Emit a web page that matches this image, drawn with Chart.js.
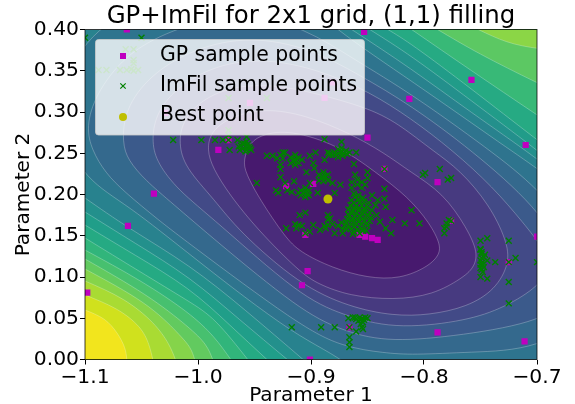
<!DOCTYPE html>
<html>
<head>
<meta charset="utf-8">
<script src="https://cdn.jsdelivr.net/npm/chart.js@4/dist/chart.umd.js"></script>
<style>
  html, body { margin: 0; padding: 0; background: #fff; }
  canvas { display: block; }
</style>
</head>
<body>
<canvas id="gpChart" width="575" height="404"></canvas>
<script>
// ---------- data ----------
const xTicks = [-1.1, -1.0, -0.9, -0.8, -0.7];
const yTicks = [0, 0.05, 0.1, 0.15, 0.2, 0.25, 0.3, 0.35, 0.4];

const gpPoints = [
  [-1.063,.400],[-0.954,.311],[-1.029,.299],[-0.982,.254],[-1.039,.201],[-0.973,.266],[-0.922,.210],
  [-0.853,.397],[-0.758,.339],[-0.813,.316],[-0.710,.260],[-0.850,.269],[-0.788,.215],[-0.835,.231],
  [-0.881,.336],[-0.888,.317],[-0.898,.213],[-1.062,.162],[-1.098,.081],[-0.903,.107],[-0.908,.090],
  [-0.901,.000],[-0.866,.039],[-0.788,.033],[-0.711,.022],[-0.700,.149],[-0.725,.118],[-0.776,.168],
  [-0.905,.151],[-0.857,.151],[-0.852,.149],[-0.846,.147],[-0.841,.145]
];

const imfilPoints = [
  [-1.100,.390],[-1.050,.390],[-1.064,.376],[-1.057,.376],[-1.057,.363],[-1.057,.359],[-1.063,.351],[-1.059,.352],
  [-1.057,.350],[-1.053,.351],[-1.088,.351],[-1.081,.351],[-1.069,.351],[-0.973,.317],[-0.939,.317],
  [-0.973,.278],[-0.973,.272],[-1.022,.266],[-0.997,.266],[-0.985,.266],[-0.978,.266],[-0.973,.266],[-0.965,.266],
  [-0.972,.254],[-0.957,.270],[-0.957,.264],[-0.958,.258],[-0.962,.259],[-0.955,.258],[-0.959,.262],[-0.957,.254],
  [-0.963,.254],[-0.958,.252],[-0.953,.254],[-0.964,.258],[-0.960,.256],[-0.956,.261],[-0.954,.256],[-0.961,.262],
  [-0.939,.247],[-0.934,.247],[-0.927,.248],[-0.930,.244],[-0.925,.244],[-0.925,.251],[-0.923,.251],[-0.927,.236],
  [-0.927,.231],[-0.927,.221],[-0.948,.214],[-0.929,.202],[-0.931,.205],[-0.923,.214],[-0.921,.205],[-0.922,.159],
  [-0.914,.242],[-0.918,.245],[-0.911,.245],[-0.918,.238],[-0.911,.238],[-0.914,.248],[-0.914,.236],[-0.908,.242],
  [-0.916,.241],[-0.912,.243],[-0.888,.267],[-0.873,.264],[-0.873,.256],[-0.896,.251],[-0.876,.250],[-0.881,.248],
  [-0.871,.250],[-0.876,.255],[-0.869,.253],[-0.884,.248],[-0.876,.245],[-0.885,.251],[-0.874,.252],[-0.878,.248],
  [-0.872,.247],[-0.868,.249],[-0.879,.251],[-0.883,.250],[-0.866,.251],[-0.873,.252],
  [-0.860,.251],[-0.901,.247],[-0.888,.242],[-0.898,.238],[-0.897,.232],[-0.904,.227],[-0.862,.237],[-0.889,.221],
  [-0.893,.224],[-0.885,.224],[-0.889,.227],[-0.889,.216],[-0.893,.217],[-0.885,.217],[-0.891,.220],[-0.887,.222],
  [-0.915,.216],[-0.901,.214],[-0.881,.214],[-0.874,.212],[-0.850,.227],[-0.850,.220],[-0.861,.224],[-0.859,.212],
  [-0.864,.215],[-0.855,.215],[-0.864,.208],[-0.855,.208],[-0.859,.218],[-0.852,.212],[-0.905,.203],[-0.909,.205],
  [-0.902,.205],[-0.909,.199],[-0.902,.199],[-0.905,.208],[-0.905,.197],[-0.907,.202],[-0.903,.201],[-0.917,.203],
  [-0.911,.202],[-0.894,.202],[-0.879,.202],[-0.861,.197],[-0.864,.193],[-0.858,.194],[-0.853,.192],[-0.865,.187],
  [-0.860,.186],[-0.855,.187],[-0.850,.185],[-0.863,.180],[-0.858,.181],[-0.852,.179],[-0.866,.174],[-0.861,.174],
  [-0.856,.173],[-0.850,.174],[-0.864,.168],[-0.858,.167],[-0.853,.168],[-0.869,.166],[-0.866,.161],[-0.861,.161],
  [-0.855,.159],[-0.850,.162],[-0.862,.155],[-0.857,.153],[-0.851,.156],[-0.872,.158],[-0.876,.162],[-0.883,.171],
  [-0.862,.190],[-0.857,.190],[-0.862,.184],[-0.857,.183],[-0.853,.183],[-0.860,.177],[-0.855,.177],[-0.864,.177],
  [-0.859,.171],[-0.854,.171],[-0.863,.171],[-0.860,.165],[-0.855,.164],[-0.864,.164],[-0.859,.157],[-0.854,.156],
  [-0.868,.170],[-0.870,.163],[-0.873,.166],[-0.865,.158],[-0.848,.168],[-0.848,.178],[-0.867,.182],[-0.862,.201],
  [-0.858,.199],[-0.854,.196],[-0.867,.176],[-0.869,.158],[-0.863,.152],[-0.851,.165],[-0.847,.172],[-0.849,.190],
  [-0.846,.181],[-0.834,.185],[-0.828,.169],[-0.834,.159],[-0.829,.153],[-0.817,.165],[-0.811,.181],[-0.804,.165],
  [-0.842,.175],[-0.839,.167],[-0.843,.187],[-0.846,.199],[-0.841,.193],[-0.910,.175],[-0.905,.178],[-0.911,.163],
  [-0.914,.164],[-0.908,.162],[-0.913,.159],[-0.898,.163],[-0.885,.175],[-0.885,.170],[-0.885,.163],[-0.888,.162],
  [-0.881,.164],[-0.887,.159],[-0.892,.157],[-0.901,.155],[-0.905,.153],[-0.879,.153],[-0.872,.153],[-0.780,.165],
  [-0.782,.159],[-0.778,.169],[-0.780,.161],[-0.776,.168],[-0.782,.153],[-0.799,.226],[-0.801,.224],[-0.786,.231],
  [-0.779,.218],[-0.776,.220],[-0.835,.231],[-0.835,.207],[-0.835,.195],[-0.744,.147],[-0.750,.133],[-0.749,.128],
  [-0.747,.124],[-0.750,.120],[-0.748,.118],[-0.750,.115],[-0.747,.112],[-0.750,.111],[-0.749,.109],[-0.748,.106],
  [-0.746,.127],[-0.744,.120],[-0.750,.134],[-0.750,.144],[-0.749,.123],[-0.748,.115],[-0.749,.130],[-0.737,.118],
  [-0.750,.100],[-0.744,.098],[-0.725,.144],[-0.725,.118],[-0.719,.123],[-0.725,.094],[-0.725,.068],[-0.700,.118],
  [-0.917,.039],[-0.891,.039],[-0.879,.039],[-0.866,.039],[-0.867,.050],[-0.863,.051],[-0.860,.049],[-0.857,.051],
  [-0.855,.049],[-0.852,.051],[-0.850,.050],[-0.858,.047],[-0.854,.045],[-0.856,.043],[-0.855,.039],[-0.854,.037],
  [-0.860,.034],[-0.866,.027],[-0.866,.021],[-0.866,.015],[-0.861,.051],[-0.856,.048],[-0.853,.048]
];

const bestPoint = [[-0.885, .1945]];

// contour lines round the minimum, outer one last
const contourA = [[-.960,.2418],[-.954,.2636],[-.942,.2733],[-.919,.2782],[-.876,.26],[-.843,.2273],[-.814,.197],[-.795,.1655],[-.785,.1388],[-.787,.1255],[-.797,.1121],[-.821,.0976],[-.850,.0988],[-.881,.1109],[-.910,.1303],[-.923,.1485],[-.945,.1933],[-.958,.2261]];
const contourB = [[-.992,.254],[-.989,.2758],[-.972,.294],[-.941,.3048],[-.905,.2964],[-.866,.2745],[-.835,.2503],[-.812,.2273],[-.783,.2018],[-.762,.1594],[-.752,.1291],[-.756,.1109],[-.766,.0988],[-.792,.0782],[-.827,.0721],[-.866,.077],[-.894,.0915],[-.910,.1061],[-.947,.157],[-.972,.1994],[-.987,.2321]];
const contourC = [[-1.017,.2624],[-1.014,.2879],[-.998,.3145],[-.967,.3327],[-.927,.3327],[-.883,.3182],[-.839,.30],[-.812,.2745],[-.793,.254],[-.768,.2297],[-.742,.1873],[-.727,.1448],[-.724,.117],[-.737,.0842],[-.762,.0636],[-.795,.0539],[-.827,.0527],[-.866,.0636],[-.910,.0903],[-.965,.157],[-.985,.1933],[-1.012,.2333]];
const contourD = [[-1.041,.2624],[-1.038,.2964],[-1.020,.3291],[-.985,.357],[-.941,.3655],[-.892,.3509],[-.848,.3242],[-.812,.2927],[-.775,.254],[-.739,.2091],[-.712,.1655],[-.693,.1327],[-.690,.1085],[-.700,.0867],[-.733,.06],[-.768,.0455],[-.827,.037],[-.872,.0539],[-.910,.077],[-.985,.1691],[-1.018,.2055],[-1.036,.2382]];
const contourE = [[-1.067,.2624],[-1.065,.3024],[-1.043,.3448],[-1.003,.3776],[-.954,.3921],[-.901,.3776],[-.857,.3448],[-.812,.3085],[-.758,.254],[-.700,.1848],[-.671,.1206],[-.671,.0721],[-.700,.0442],[-.777,.0273],[-.835,.0212],[-.874,.0358],[-.910,.06],[-.985,.1448],[-1.023,.1897],[-1.047,.2176],[-1.062,.2418]];
const contourF = [[-1.099,.2818],[-1.091,.3206],[-1.065,.3691],[-1.025,.3994],[-.963,.4236],[-.905,.4018],[-.861,.363],[-.812,.323],[-.742,.254],[-.700,.2091],[-.653,.1327],[-.644,.06],[-.700,.0115],[-.759,.0091],[-.810,.0055],[-.835,.0079],[-.872,.0152],[-.910,.0406],[-1.012,.1448],[-1.035,.1691],[-1.065,.203],[-1.082,.2261],[-1.094,.254]];
const contourG = [[-.879,.40],[-.812,.3388],[-.724,.254],[-.700,.2321],[-.627,.157],[-.609,.0358],[-.680,-.0491],[-.821,-.0733],[-.866,0],[-.910,.0236],[-1.007,.1267],[-1.062,.1873],[-1.100,.2176],[-1.122,.2782],[-1.122,.3388],[-1.087,.4115],[-1.016,.4479],[-.927,.46]];
const innerContours = [contourG, contourF, contourE, contourD, contourC, contourB, contourA];
const innerColors = ["#2e748e", "#34698d", "#3b5a8b", "#424a87", "#473a80", "#4a2c7b", "#47196e"];

// contour lines round the top right corner, lowest first
const topRightContours = [
  [[-.864,.40],[-.812,.3533],[-.759,.30],[-.700,.2442],[-.66,.20]],
  [[-.848,.40],[-.812,.3691],[-.759,.3145],[-.700,.254],[-.66,.21]],
  [[-.832,.40],[-.812,.3836],[-.759,.3291],[-.700,.2661],[-.66,.225]],
  [[-.811,.40],[-.759,.3509],[-.700,.2964],[-.66,.26]],
  [[-.788,.40],[-.753,.3715],[-.700,.3352],[-.66,.31]],
  [[-.752,.40],[-.727,.3836],[-.700,.3764],[-.66,.372]]
];
const topRightColors = ["#23908c", "#219c89", "#26aa83", "#38b977", "#5cc863", "#8bd646"];

// contour lines round the bottom left corner, lowest first
const bottomLeftContours = [
  [[-1.10,.1958],[-1.062,.1594],[-1.007,.1145],[-.958,.06],[-.907,0]],
  [[-1.10,.1788],[-1.056,.1412],[-1.007,.10],[-.963,.0479],[-.921,0]],
  [[-1.10,.163],[-1.056,.1267],[-1.007,.0867],[-.972,.0418],[-.939,0]],
  [[-1.10,.1473],[-1.051,.1061],[-1.007,.0697],[-.985,.0503],[-.956,0]],
  [[-1.10,.1327],[-1.051,.0964],[-1.007,.0564],[-.985,.0273],[-.971,0]],
  [[-1.10,.1218],[-1.044,.0782],[-1.007,.0382],[-.992,.018],[-.987,0]],
  [[-1.10,.1097],[-1.044,.0685],[-1.016,.0297],[-1.006,.014],[-1.003,0]],
  [[-1.10,.0952],[-1.065,.0745],[-1.038,.0442],[-1.025,.018],[-1.020,0]],
  [[-1.10,.0782],[-1.071,.0624],[-1.050,.0394],[-1.043,.018],[-1.040,0]],
  [[-1.10,.06],[-1.082,.0503],[-1.071,.0321],[-1.064,.0139],[-1.063,0]]
];
const bottomLeftColors = ["#23908c", "#209e89", "#25aa83", "#31b57b", "#47c06f", "#62ca5f", "#85d44a", "#a9db33", "#d0e11d", "#f2e51d"];

const baseColor = "#28828e";

// ---------- helper: cubic b-spline over the read points, evens out reading error ----------
function traceCurve(ctx, chart, pts, closed) {
  const xs = chart.scales.x, ys = chart.scales.y;
  const p = pts.map(d => [xs.getPixelForValue(d[0]), ys.getPixelForValue(d[1])]);
  const n = p.length;
  const at = i => {
    if (closed) return p[(i + n) % n];
    // phantom end points make the open curve start and stop on its first and last point
    if (i < 0) return [2 * p[0][0] - p[1][0], 2 * p[0][1] - p[1][1]];
    if (i >= n) return [2 * p[n - 1][0] - p[n - 2][0], 2 * p[n - 1][1] - p[n - 2][1]];
    return p[i];
  };
  const segs = closed ? n : n - 1;
  const start = [0, 1].map(k => (at(-1)[k] + 4 * at(0)[k] + at(1)[k]) / 6);
  ctx.moveTo(start[0], start[1]);
  for (let i = 0; i < segs; i++) {
    const p1 = at(i), p2 = at(i + 1), p3 = at(i + 2);
    ctx.bezierCurveTo(
      (2 * p1[0] + p2[0]) / 3, (2 * p1[1] + p2[1]) / 3,
      (p1[0] + 2 * p2[0]) / 3, (p1[1] + 2 * p2[1]) / 3,
      (p1[0] + 4 * p2[0] + p3[0]) / 6, (p1[1] + 4 * p2[1] + p3[1]) / 6
    );
  }
}

function paintCorner(ctx, chart, pts, color, cornerX, cornerY) {
  const xs = chart.scales.x, ys = chart.scales.y;
  const first = pts[0], last = pts[pts.length - 1];
  ctx.beginPath();
  traceCurve(ctx, chart, pts, false);
  if (cornerY > 0) {
    // top right: leave to the right, come back along the top
    ctx.lineTo(xs.getPixelForValue(cornerX), ys.getPixelForValue(last[1]));
    ctx.lineTo(xs.getPixelForValue(cornerX), ys.getPixelForValue(cornerY));
    ctx.lineTo(xs.getPixelForValue(first[0]), ys.getPixelForValue(cornerY));
  } else {
    // bottom left: leave downwards, come back along the left
    ctx.lineTo(xs.getPixelForValue(last[0]), ys.getPixelForValue(cornerY));
    ctx.lineTo(xs.getPixelForValue(cornerX), ys.getPixelForValue(cornerY));
    ctx.lineTo(xs.getPixelForValue(cornerX), ys.getPixelForValue(first[1]));
  }
  ctx.closePath();
  ctx.fillStyle = color;
  ctx.fill();
  ctx.beginPath();
  traceCurve(ctx, chart, pts, false);
  ctx.stroke();
}

// ---------- contour background, drawn under the points ----------
const contourPlugin = {
  id: "contourBackground",
  beforeDatasetsDraw(chart) {
    const { ctx, chartArea: a } = chart;
    ctx.save();
    ctx.beginPath();
    ctx.rect(a.left, a.top, a.right - a.left, a.bottom - a.top);
    ctx.clip();
    ctx.fillStyle = baseColor;
    ctx.fillRect(a.left, a.top, a.right - a.left, a.bottom - a.top);
    ctx.strokeStyle = "rgba(255,255,255,0.32)";
    ctx.lineWidth = 0.8;
    topRightContours.forEach((c, i) => paintCorner(ctx, chart, c, topRightColors[i], -0.6, 0.5));
    bottomLeftContours.forEach((c, i) => paintCorner(ctx, chart, c, bottomLeftColors[i], -1.2, -0.1));
    innerContours.forEach((c, i) => {
      ctx.beginPath();
      traceCurve(ctx, chart, c, true);
      ctx.closePath();
      ctx.fillStyle = innerColors[i];
      ctx.fill();
      ctx.stroke();
    });
    ctx.restore();
  }
};

// ---------- legend box sits inside the axes, so draw it ourselves ----------
const insideLegendPlugin = {
  id: "insideLegend",
  afterDatasetsDraw(chart) {
    const ctx = chart.ctx;
    const sets = chart.data.datasets;
    const markerX = 123, textX = 160, rows = [56, 86, 116];
    ctx.save();
    ctx.beginPath();
    ctx.roundRect(95.5, 39.5, 269, 95.5, 3);
    ctx.fillStyle = "rgba(255,255,255,0.8)";
    ctx.fill();
    ctx.strokeStyle = "rgba(204,204,204,0.8)";
    ctx.lineWidth = 1;
    ctx.stroke();

    ctx.fillStyle = sets[0].backgroundColor;
    ctx.fillRect(markerX - 3, rows[0] - 3, 6, 6);

    ctx.strokeStyle = sets[1].borderColor;
    ctx.lineWidth = 1.2;
    ctx.beginPath();
    ctx.moveTo(markerX - 2.7, rows[1] - 2.7); ctx.lineTo(markerX + 2.7, rows[1] + 2.7);
    ctx.moveTo(markerX - 2.7, rows[1] + 2.7); ctx.lineTo(markerX + 2.7, rows[1] - 2.7);
    ctx.stroke();

    ctx.fillStyle = sets[2].backgroundColor;
    ctx.beginPath();
    ctx.arc(markerX, rows[2] + 1, 4, 0, Math.PI * 2);
    ctx.fill();

    ctx.fillStyle = "#000";
    ctx.font = '20.4px "DejaVu Sans"';
    ctx.textBaseline = "middle";
    sets.forEach((s, i) => ctx.fillText(s.label, textX, rows[i]));
    ctx.restore();
  },
  afterDraw(chart) {
    // matplotlib frame, chart.js only gives us left and bottom
    const { ctx, chartArea: a } = chart;
    ctx.save();
    ctx.strokeStyle = "rgba(0,0,0,0.75)";
    ctx.lineWidth = 1;
    ctx.strokeRect(a.left, a.top, a.right - a.left, a.bottom - a.top);
    ctx.restore();
  }
};

const toXY = pts => pts.map(p => ({ x: p[0], y: p[1] }));
const font20 = { family: '"DejaVu Sans"', size: 20.3 };

new Chart(document.getElementById("gpChart"), {
  type: "scatter",
  data: {
    datasets: [
      { label: "GP sample points", data: toXY(gpPoints), pointStyle: "rect", pointRadius: 4.4, borderWidth: 0, backgroundColor: "#bf00bf", borderColor: "#bf00bf", order: 3 },
      { label: "ImFil sample points", data: toXY(imfilPoints), pointStyle: "crossRot", pointRadius: 4.2, borderWidth: 1.4, backgroundColor: "#008000", borderColor: "#008000", order: 2 },
      { label: "Best point", data: toXY(bestPoint), pointStyle: "circle", pointRadius: 4.5, borderWidth: 0, backgroundColor: "#bfbf00", borderColor: "#bfbf00", order: 1 }
    ]
  },
  options: {
    responsive: false,
    animation: false,
    events: [],
    layout: { padding: { left: 0, right: 38, top: 0, bottom: 0 } },
    plugins: {
      legend: { display: false },
      tooltip: { enabled: false },
      title: {
        display: true,
        fullSize: false,
        text: "GP+ImFil for 2x1 grid, (1,1) filling",
        color: "#000",
        font: { family: '"DejaVu Sans"', size: 24.4, weight: "normal", lineHeight: 1 },
        padding: { top: 4, bottom: 1.1 }
      }
    },
    scales: {
      x: {
        type: "linear",
        min: -1.1,
        max: -0.7,
        afterFit(scale) { scale.height = 44.5; },
        afterBuildTicks(scale) { scale.ticks = xTicks.map(v => ({ value: v })); },
        grid: { drawOnChartArea: false, drawTicks: true, tickLength: 5, color: "#000" },
        border: { display: false },
        ticks: {
          font: font20, color: "#000", padding: 1, maxRotation: 0, autoSkip: false,
          callback: v => v.toFixed(1).replace("-", "\u2212")
        },
        title: { display: true, text: "Parameter 1", color: "#000", font: { family: '"DejaVu Sans"', size: 20.1, lineHeight: 0.85 }, padding: 0 }
      },
      y: {
        type: "linear",
        min: 0,
        max: 0.4,
        afterFit(scale) { scale.width = 85; },
        afterBuildTicks(scale) { scale.ticks = yTicks.map(v => ({ value: v })); },
        grid: { drawOnChartArea: false, drawTicks: true, tickLength: 5, color: "#000" },
        border: { display: false },
        ticks: {
          font: font20, color: "#000", padding: 1, autoSkip: false,
          callback: v => v.toFixed(2)
        },
        title: { display: true, text: "Parameter 2", color: "#000", font: { family: '"DejaVu Sans"', size: 20.1 }, padding: { top: 12, bottom: 0 } }
      }
    }
  },
  plugins: [contourPlugin, insideLegendPlugin]
});
</script>
</body>
</html>
